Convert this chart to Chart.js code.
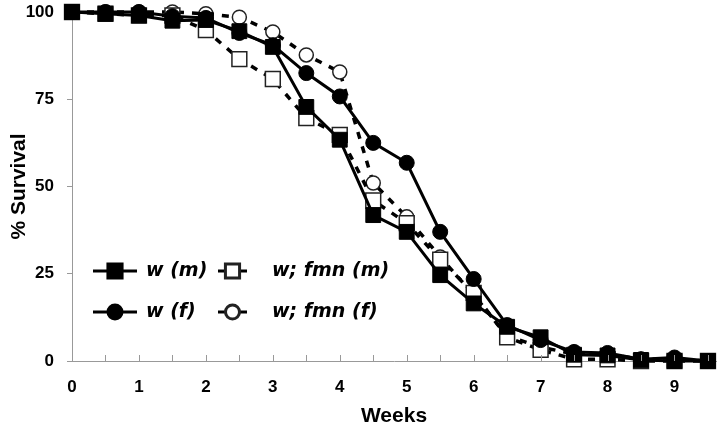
<!DOCTYPE html>
<html>
<head>
<meta charset="utf-8">
<script src="https://cdn.jsdelivr.net/npm/chart.js@4/dist/chart.umd.min.js"></script>
<style>
  html, body { margin: 0; background: #fff; }
  #wrap { width: 720px; height: 429px; }
</style>
</head>
<body>
<div id="wrap"><canvas id="survival"></canvas></div>
<script>
var weeks = [0, 0.5, 1, 1.5, 2, 2.5, 3, 3.5, 4, 4.5, 5, 5.5, 6, 6.5, 7, 7.5, 8, 8.5, 9, 9.5];
var wMale      = [100, 99.5, 99, 97.5, 97.7, 94.5, 90, 72.8, 63.4, 41.8, 37, 24.6, 16.5, 9.8, 6.8, 1.8, 1.6, 0.3, 0, 0];
var wFemale    = [100, 100, 100, 98.8, 98.3, 94, 90.5, 82.5, 75.8, 62.5, 56.8, 37, 23.5, 10.3, 6, 2.6, 2.3, 0.5, 1, 0];
var fmnMale    = [100, 99.5, 99, 99, 94.8, 86.5, 80.8, 69.6, 64.8, 46, 39.5, 29, 19.5, 6.8, 3.2, 0.5, 0.5, 0, 0, 0];
var fmnFemale  = [100, 100, 100, 100, 99.5, 98.5, 94.3, 87.7, 82.8, 51, 41.3, 29.8, 19, 7.2, 4, 2, 2, 0.5, 0.5, 0];
var yTicks = [0, 25, 50, 75, 100];

function pts(vals) {
    return weeks.map(function(w, i) { return { x: w, y: vals[i] }; });
}

var FONT = "'Liberation Sans', Arial, sans-serif";
var LEGEND_FONT = "'DejaVu Sans', Verdana, sans-serif";

var datasets = [
    {
        label: 'w (m)', data: pts(wMale), order: 1, clip: false,
        borderColor: '#000', borderWidth: 3, backgroundColor: '#000',
        pointStyle: 'rect', pointRadius: 10.5, pointBorderWidth: 1,
        pointBackgroundColor: '#000', pointBorderColor: '#000'
    },
    {
        label: 'w; fmn (m)', data: pts(fmnMale), order: 3, clip: false,
        borderColor: '#000', borderWidth: 3.5, borderDash: [7, 8],
        pointStyle: 'rect', pointRadius: 10.5, pointBorderWidth: 1.5,
        pointBackgroundColor: '#fff', pointBorderColor: '#222'
    },
    {
        label: 'w (f)', data: pts(wFemale), order: 2, clip: false,
        borderColor: '#000', borderWidth: 3, backgroundColor: '#000',
        pointStyle: 'circle', pointRadius: 7.5, pointBorderWidth: 1,
        pointBackgroundColor: '#000', pointBorderColor: '#000'
    },
    {
        label: 'w; fmn (f)', data: pts(fmnFemale), order: 4, clip: false,
        borderColor: '#000', borderWidth: 3.5, borderDash: [7, 8],
        pointStyle: 'circle', pointRadius: 7, pointBorderWidth: 1.5,
        pointBackgroundColor: '#fff', pointBorderColor: '#222'
    }
];

// inward x ticks and the in-plot legend
var extras = {
    id: 'extras',
    afterDraw: function(chart) {
        var ctx = chart.ctx;
        var x = chart.scales.x, area = chart.chartArea;
        ctx.save();
        ctx.strokeStyle = '#999';
        ctx.lineWidth = 1;
        x.ticks.forEach(function(t) {
            if (t.value === 0) return;
            var px = Math.round(x.getPixelForValue(t.value)) + 0.5;
            ctx.beginPath();
            ctx.moveTo(px, area.bottom);
            ctx.lineTo(px, area.bottom - 6);
            ctx.stroke();
        });

        // legend
        var rows = [
            { ds: 0, lx: 93, ly: 271, long: true, tx: 146 },
            { ds: 1, lx: 218, ly: 271, long: false, tx: 272 },
            { ds: 2, lx: 93, ly: 312, long: true, tx: 146 },
            { ds: 3, lx: 218, ly: 312, long: false, tx: 272 }
        ];
        rows.forEach(function(r) {
            var d = chart.data.datasets[r.ds];
            var len = r.long ? 44 : 29;
            var mx = r.lx + len / 2;
            ctx.strokeStyle = '#000';
            ctx.lineWidth = 3;
            ctx.setLineDash([]);
            ctx.beginPath();
            if (r.long) {
                ctx.moveTo(r.lx, r.ly); ctx.lineTo(r.lx + len, r.ly);
            } else {
                ctx.moveTo(r.lx, r.ly); ctx.lineTo(r.lx + 7, r.ly);
                ctx.moveTo(r.lx + len - 7, r.ly); ctx.lineTo(r.lx + len, r.ly);
            }
            ctx.stroke();
            ctx.fillStyle = d.pointBackgroundColor;
            ctx.strokeStyle = d.pointBorderColor;
            Chart.helpers.drawPoint(ctx, {
                pointStyle: d.pointStyle,
                radius: d.pointStyle === 'rect' ? 10 : 7,
                borderWidth: d.pointBorderWidth
            }, mx, r.ly);
            ctx.fillStyle = '#000';
            ctx.font = 'italic bold 19px ' + LEGEND_FONT;
            ctx.textBaseline = 'middle';
            ctx.textAlign = 'left';
            ctx.fillText(d.label, r.tx, r.ly);
        });
        ctx.restore();
    }
};

new Chart(document.getElementById('survival'), {
    type: 'line',
    data: { datasets: datasets },
    plugins: [extras],
    options: {
        responsive: true,
        maintainAspectRatio: false,
        animation: false,
        layout: { autoPadding: false, padding: { top: 12, right: 4, left: 0, bottom: 0 } },
        plugins: { legend: { display: false }, tooltip: { enabled: false } },
        elements: { line: { tension: 0 } },
        scales: {
            x: {
                type: 'linear', min: 0, max: 9.62,
                afterFit: function(s) {
                    s.height = 68;
                    s.paddingLeft = 0; s.paddingRight = 0;
                },
                afterBuildTicks: function(s) {
                    s.ticks = weeks.map(function(w) { return { value: w }; });
                },
                ticks: {
                    autoSkip: false, maxRotation: 0, padding: 16,
                    color: '#000', font: { family: FONT, size: 17, weight: 'bold' },
                    callback: function(v) { return Number.isInteger(v) ? String(v) : ''; }
                },
                grid: { display: true, drawOnChartArea: false, drawTicks: false },
                border: { color: '#999', width: 1 },
                title: {
                    display: true, text: 'Weeks', color: '#000',
                    font: { family: FONT, size: 21, weight: 'bold' },
                    padding: { top: 2, bottom: 0 }
                }
            },
            y: {
                min: 0, max: 100,
                afterFit: function(s) {
                    s.width = 72;
                    s.paddingTop = 0; s.paddingBottom = 0;
                },
                afterBuildTicks: function(s) {
                    s.ticks = yTicks.map(function(v) { return { value: v }; });
                },
                ticks: {
                    padding: 13, color: '#000',
                    font: { family: FONT, size: 17, weight: 'bold' }
                },
                grid: { drawOnChartArea: false, drawTicks: true, tickLength: 5, color: '#999' },
                border: { color: '#999', width: 1 },
                title: {
                    display: true, text: '% Survival', color: '#000',
                    font: { family: FONT, size: 21, weight: 'bold' },
                    padding: { top: 7, bottom: 0 }
                }
            }
        }
    }
});
</script>
</body>
</html>
